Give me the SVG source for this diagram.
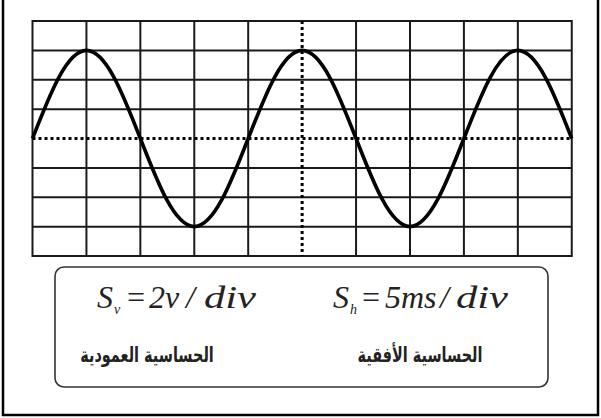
<svg xmlns="http://www.w3.org/2000/svg" width="601" height="418" viewBox="0 0 601 418">
<style>
.frame{fill:#fff;stroke:#000;stroke-width:2.5}
.grid line{stroke:#1a1a1a;stroke-width:2}
.grid rect{fill:#fff;stroke:#1a1a1a;stroke-width:2}
.dot{stroke:#000;stroke-width:3;stroke-dasharray:3 3;fill:none}
.wave{fill:none;stroke:#000;stroke-width:3.6;stroke-linejoin:round}
.box{fill:#fff;stroke:#333;stroke-width:1.6}
.math{font-family:"Liberation Serif","DejaVu Serif",serif;font-style:italic;font-size:32px;fill:#222}
.sub{font-size:14px}
.op{font-style:normal}
.ar{font-family:"DejaVu Sans","Noto Sans",sans-serif;font-size:19px;font-weight:bold;fill:#222;text-anchor:middle}
</style>
<rect class="frame" x="3" y="-3" width="595" height="418"/>
<g id="scope-screen" class="grid">
<rect x="32.5" y="21" width="539.25" height="235"/>
<line x1="86.43" y1="21" x2="86.43" y2="256"/>
<line x1="140.35" y1="21" x2="140.35" y2="256"/>
<line x1="194.28" y1="21" x2="194.28" y2="256"/>
<line x1="248.2" y1="21" x2="248.2" y2="256"/>
<line x1="356.05" y1="21" x2="356.05" y2="256"/>
<line x1="409.98" y1="21" x2="409.98" y2="256"/>
<line x1="463.9" y1="21" x2="463.9" y2="256"/>
<line x1="517.83" y1="21" x2="517.83" y2="256"/>
<line x1="32.5" y1="50.38" x2="571.75" y2="50.38"/>
<line x1="32.5" y1="79.75" x2="571.75" y2="79.75"/>
<line x1="32.5" y1="109.13" x2="571.75" y2="109.13"/>
<line x1="32.5" y1="167.88" x2="571.75" y2="167.88"/>
<line x1="32.5" y1="197.25" x2="571.75" y2="197.25"/>
<line x1="32.5" y1="226.63" x2="571.75" y2="226.63"/>
</g>
<g id="axes">
<line class="dot" x1="32.5" y1="138.5" x2="571.75" y2="138.5"/>
<line class="dot" x1="302.13" y1="21" x2="302.13" y2="256"/>
</g>
<g id="waveform">
<path class="wave" d="M32.5,138.5 c17.59,-45.13 34.41,-88.1 53.925,-88.1 c19.52,0 36.34,42.97 53.925,88.1 c17.590,45.13 34.41,88.1 53.925,88.1 c19.52,0 36.34,-42.97 53.925,-88.1 c17.59,-45.13 34.41,-88.1 53.925,-88.1 c19.52,0 36.34,42.97 53.925,88.1 c17.59,45.13 34.41,88.1 53.925,88.1 c19.52,0 36.34,-42.97 53.925,-88.1 c17.59,-45.13 34.41,-88.1 53.925,-88.1 c19.52,0 36.34,42.97 53.925,88.1"/>
</g>
<g id="sensitivity-box">
<rect class="box" x="55" y="267" width="493" height="120" rx="9"/>
</g>
<g id="vertical-sensitivity">
<text class="math" y="308"><tspan x="97">S</tspan><tspan class="sub" x="114" y="314">v</tspan><tspan class="op" x="127" y="308">=</tspan><tspan x="149">2v</tspan><tspan x="186">/</tspan><tspan x="204" textLength="52" lengthAdjust="spacingAndGlyphs">div</tspan></text>
<text class="ar" transform="translate(147,362) scale(0.76,1.1)" direction="rtl">الحساسية العمودية</text>
</g>
<g id="horizontal-sensitivity">
<text class="math" y="308"><tspan x="333">S</tspan><tspan class="sub" x="350" y="314">h</tspan><tspan class="op" x="362" y="308">=</tspan><tspan x="385">5ms</tspan><tspan x="440">/</tspan><tspan x="456" textLength="52" lengthAdjust="spacingAndGlyphs">div</tspan></text>
<text class="ar" transform="translate(420,362) scale(0.76,1.1)" direction="rtl">الحساسية الأفقية</text>
</g>
</svg>
